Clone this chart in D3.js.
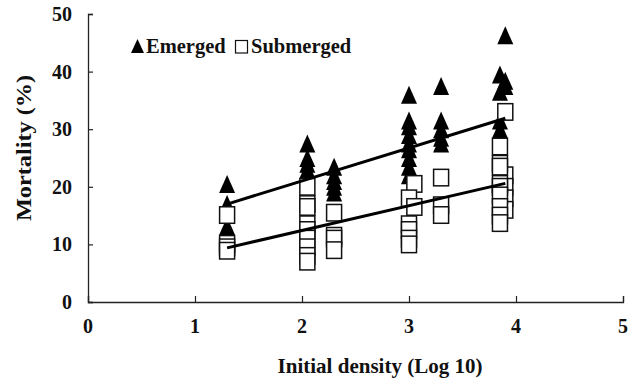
<!DOCTYPE html>
<html>
<head>
<meta charset="utf-8">
<script src="https://cdn.jsdelivr.net/npm/d3@7"></script>
<style>
  body { margin: 0; background: #fff; }
  text { font-family: "Liberation Serif", "Times New Roman", serif; font-weight: bold; fill: #111; }
</style>
</head>
<body>
<div class="graph-div"></div>
<script>
var outerWidth = 635;
var outerHeight = 387;

// x = initial density (log10), y = mortality (%)
var emergedX = [1.3, 1.3, 1.3, 1.3,
                2.05, 2.05, 2.05, 2.05, 2.05,
                2.3, 2.3, 2.3, 2.3, 2.3,
                3.0, 3.0, 3.0, 3.0, 3.0, 3.0, 3.0, 3.0, 3.0,
                3.3, 3.3, 3.3, 3.3, 3.3,
                3.9, 3.9, 3.9, 3.85, 3.85, 3.85, 3.85];
var emergedY = [20.5, 17.0, 13.2, 12.0,
                27.5, 25.0, 24.0, 23.0, 22.0,
                23.5, 22.0, 21.0, 20.0, 19.0,
                36.0, 31.5, 30.5, 29.0, 27.5, 26.5, 25.0, 23.5, 22.0,
                37.5, 31.5, 30.0, 28.5, 27.5,
                46.3, 38.4, 37.5, 39.5, 36.5, 31.5, 30.0];

var submergedX = [1.3, 1.3, 1.3, 1.3,
                  2.05, 2.05, 2.05, 2.05, 2.05, 2.05, 2.05, 2.05, 2.05,
                  2.3, 2.3, 2.3, 2.3,
                  3.05, 3.0, 3.05, 3.0, 3.0, 3.0, 3.0,
                  3.3, 3.3, 3.3,
                  3.9, 3.9, 3.9, 3.9, 3.9,
                  3.85, 3.85, 3.85, 3.85, 3.85, 3.85, 3.85, 3.85, 3.85];
var submergedY = [15.1, 10.1, 9.5, 8.9,
                  20.0, 17.0, 16.5, 13.5, 12.5, 11.0, 9.5, 8.0, 7.0,
                  15.5, 11.5, 11.0, 9.0,
                  20.5, 18.0, 16.5, 13.5, 12.5, 11.0, 10.0,
                  21.6, 16.8, 15.1,
                  33.0, 22.0, 20.0, 18.0, 16.0,
                  27.0, 24.0, 23.5, 20.5, 20.0, 18.5, 16.5, 15.0, 13.7];

// fitted lines, end points
var emergedFitX = [1.3, 3.9];
var emergedFitY = [17.0, 31.9];
var submergedFitX = [1.3, 3.9];
var submergedFitY = [9.4, 20.6];

var xTickValues = [0, 1, 2, 3, 4, 5];
var yTickValues = [0, 10, 20, 30, 40, 50];

var svg = d3.select(".graph-div").append("svg")
    .attr("width", outerWidth)
    .attr("height", outerHeight);

svg.append("rect").attr("width", outerWidth).attr("height", outerHeight).attr("fill", "#fff");

var xScale = d3.scaleLinear().domain([0, 5]).range([88, 623]);
var yScale = d3.scaleLinear().domain([0, 50]).range([302, 14]);

// axes, ticks point inwards
const xAxis = d3.axisTop(xScale).tickValues(xTickValues).tickSize(6).tickFormat("");
const yAxis = d3.axisRight(yScale).tickValues(yTickValues).tickSize(5).tickFormat("");

const xAxisG = svg.append("g").attr("transform", "translate(0," + yScale(0) + ")").call(xAxis);
const yAxisG = svg.append("g").attr("transform", "translate(" + xScale(0) + ",0)").call(yAxis);
svg.selectAll(".domain").attr("stroke", "#222").attr("stroke-width", 1.3);
svg.selectAll(".tick line").attr("stroke", "#222").attr("stroke-width", 1.2);

svg.selectAll(".xlab").data(xTickValues).enter().append("text")
    .attr("class", "xlab")
    .attr("x", function(d) { return xScale(d); })
    .attr("y", 333)
    .attr("text-anchor", "middle")
    .style("font-size", "20px")
    .text(function(d) { return d; });

svg.selectAll(".ylab").data(yTickValues).enter().append("text")
    .attr("class", "ylab")
    .attr("x", 72)
    .attr("y", function(d) { return yScale(d) + 7; })
    .attr("text-anchor", "end")
    .style("font-size", "20px")
    .text(function(d) { return d; });

svg.append("text")
    .attr("x", 380).attr("y", 373)
    .attr("text-anchor", "middle")
    .style("font-size", "21px")
    .text("Initial density (Log 10)");

svg.append("text")
    .attr("transform", "translate(31,148) rotate(-90)")
    .attr("text-anchor", "middle")
    .attr("textLength", 146)
    .attr("lengthAdjust", "spacingAndGlyphs")
    .style("font-size", "22px")
    .text("Mortality (%)");

// markers
var triW = 16, triH = 18, sqW = 15, sqH = 16.5;
function triPath(cx, cy) {
  return "M" + cx + "," + (cy - triH / 2) + "L" + (cx + triW / 2) + "," + (cy + triH / 2) +
         "L" + (cx - triW / 2) + "," + (cy + triH / 2) + "Z";
}

svg.selectAll(".tri").data(emergedY).enter().append("path")
    .attr("class", "tri")
    .attr("d", function(d, i) { return triPath(xScale(emergedX[i]), yScale(d)); })
    .attr("fill", "#000");

svg.selectAll(".sq").data(submergedY).enter().append("rect")
    .attr("class", "sq")
    .attr("x", function(d, i) { return xScale(submergedX[i]) - sqW / 2; })
    .attr("y", function(d) { return yScale(d) - sqH / 2; })
    .attr("width", sqW).attr("height", sqH)
    .attr("fill", "#fff").attr("stroke", "#111").attr("stroke-width", 1.5);

var line = d3.line()
    .x(function(d) { return xScale(d[0]); })
    .y(function(d) { return yScale(d[1]); });

svg.append("path")
    .attr("d", line(d3.zip(emergedFitX, emergedFitY)))
    .attr("stroke", "#000").attr("stroke-width", 3).attr("fill", "none");
svg.append("path")
    .attr("d", line(d3.zip(submergedFitX, submergedFitY)))
    .attr("stroke", "#000").attr("stroke-width", 3).attr("fill", "none");

// legend
svg.append("path")
    .attr("d", "M137.5,39L144,53L131,53Z")
    .attr("fill", "#000");
svg.append("text").attr("x", 146).attr("y", 53).style("font-size", "20.5px").text("Emerged");
svg.append("rect")
    .attr("x", 235.5).attr("y", 40.5).attr("width", 12).attr("height", 12.5)
    .attr("fill", "#fff").attr("stroke", "#111").attr("stroke-width", 1.2);
svg.append("text").attr("x", 251).attr("y", 53).style("font-size", "20.5px").text("Submerged");
</script>
</body>
</html>
